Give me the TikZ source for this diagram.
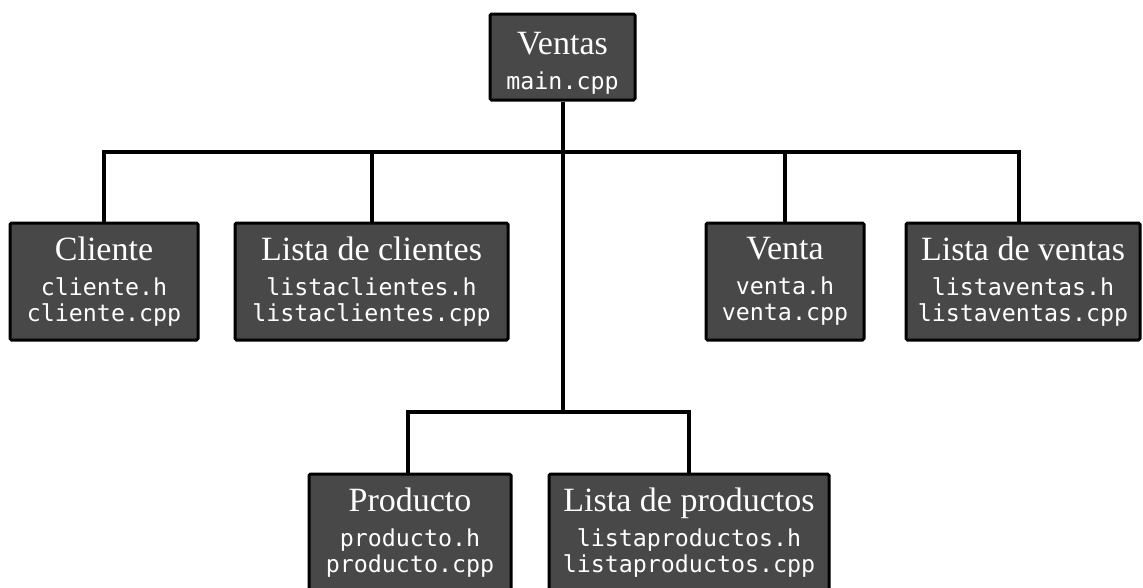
\documentclass[tikz,border=0pt]{standalone}
\usepackage{fontspec}
\setmainfont{Liberation Serif}
\newfontfamily\monof{DejaVu Sans Mono}
\definecolor{boxgray}{RGB}{72,72,72}
\newcommand\ttl[1]{{\rmfamily\fontsize{34}{34}\selectfont #1}\\[9pt]}
\begin{document}
\begin{tikzpicture}[x=1pt,y=-1pt,
  box/.style={draw=black,line width=3pt,fill=boxgray,rounded corners=1.5pt,
    text=white,align=center,inner sep=0pt,minimum height=117pt,
    font=\monof\fontsize{23.3}{26}\selectfont},
  link/.style={line width=4pt,draw=black}]
\clip (0,0) rectangle (1143,587);
\node[box,minimum width=145pt,minimum height=86pt,text height=70pt] (ventas) at (562.5,57) {\ttl{Ventas}main.cpp};
\node[box,minimum width=188pt] (cliente) at (104,281.5) {\ttl{Cliente}cliente.h\\cliente.cpp};
\node[box,minimum width=273pt] (lclientes) at (371.5,281.5) {\ttl{Lista de clientes}listaclientes.h\\listaclientes.cpp};
\node[box,minimum width=158pt] (venta) at (785,281.5) {\ttl{Venta}venta.h\\venta.cpp};
\node[box,minimum width=234pt] (lventas) at (1023,281.5) {\ttl{Lista de ventas}listaventas.h\\listaventas.cpp};
\node[box,minimum width=202pt] (producto) at (410,532.5) {\ttl{Producto}producto.h\\producto.cpp};
\node[box,minimum width=280pt] (lproductos) at (689,532.5) {\ttl{Lista de productos}listaproductos.h\\listaproductos.cpp};
\coordinate (hub1) at (562.5,152);
\coordinate (hub2) at (562.5,412);
\draw[link] (ventas.south) -- (hub2);
\draw[link] (cliente.north) |- (hub1);
\draw[link] (lclientes.north) |- (hub1);
\draw[link] (venta.north) |- (hub1);
\draw[link] ([xshift=-4pt]lventas.north) |- (hub1);
\draw[link] ([xshift=-2pt]producto.north) |- (hub2);
\draw[link] (lproductos.north) |- (hub2);
\end{tikzpicture}
\end{document}
